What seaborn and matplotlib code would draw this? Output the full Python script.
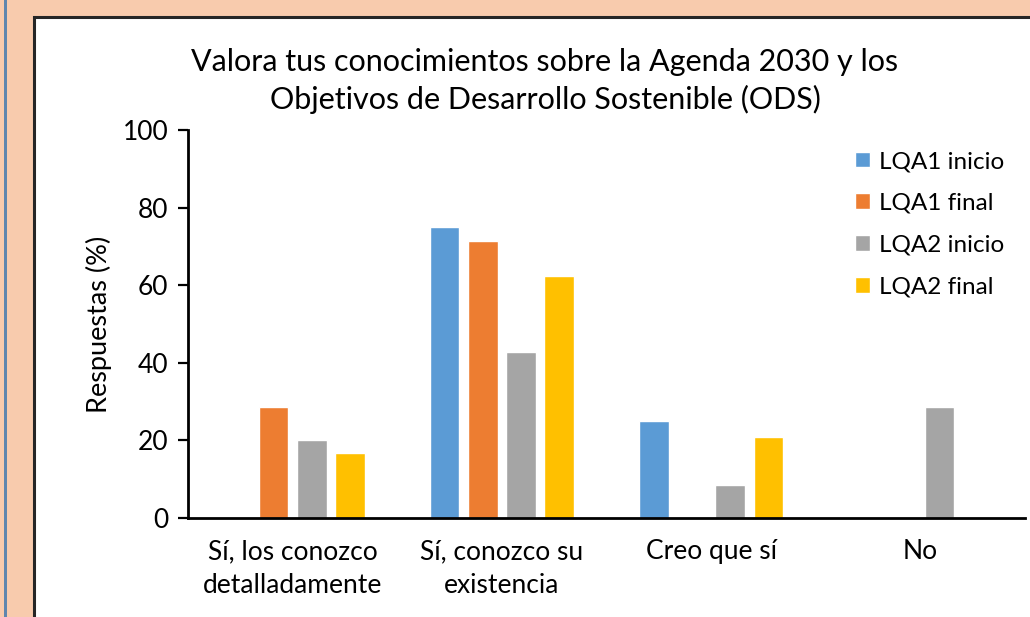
import pandas as pd
import seaborn as sns
from matplotlib import pyplot as plt
from matplotlib.patches import Rectangle

# data
categorias = ["Sí, los conozco\ndetalladamente", "Sí, conozco su\nexistencia", "Creo que sí", "No"]
lqa1_inicio = [0, 75.0, 25.0, 0]
lqa1_final = [28.6, 71.4, 0, 0]
lqa2_inicio = [20.0, 42.9, 8.6, 28.6]
lqa2_final = [16.7, 62.5, 20.8, 0]
series = ["LQA1 inicio", "LQA1 final", "LQA2 inicio", "LQA2 final"]
colores = ["#5B9BD5", "#ED7D31", "#A5A5A5", "#FFC000"]

rows = []
for nombre, vals in zip(series, [lqa1_inicio, lqa1_final, lqa2_inicio, lqa2_final]):
    for cat, v in zip(categorias, vals):
        rows.append({"Categoria": cat, "Serie": nombre, "Valor": v})
df = pd.DataFrame(rows)

sns.set_style("white", {"text.color": "black", "axes.labelcolor": "black",
                        "xtick.color": "black", "ytick.color": "black"})
plt.rcParams['font.family'] = ['Lato', 'DejaVu Sans']

fig = plt.figure(figsize=(10.3, 6.17), dpi=100)
fig.patch.set_facecolor("#F8CBAD")

# white panel with black frame, and the blue line on the left edge
fig.patches.append(Rectangle((34 / 1030, -0.05), 1.2, 1 - 17 / 617 + 0.05, transform=fig.transFigure,
                             facecolor="white", edgecolor="#262626", linewidth=2.2, zorder=-2))
fig.patches.append(Rectangle((4 / 1030, 0), 2.5 / 1030, 1, transform=fig.transFigure,
                             facecolor="#5F86AE", edgecolor="none", zorder=-2))

ax = fig.add_axes([188 / 1030, 1 - 518 / 617, (1025 - 188) / 1030, (518 - 130) / 617])
ax.set_zorder(1)
ax.set_facecolor("none")

sns.barplot(data=df, x="Categoria", y="Valor", hue="Serie", palette=colores, saturation=1,
            width=0.73, gap=0.22, ax=ax, legend=True)

ax.set_ylim(0, 100)
ax.set_yticks([0, 20, 40, 60, 80, 100])
ax.set_xlim(-0.5, 3.5)
ax.set_xlabel("")
ax.set_ylabel("Respuestas (%)", fontsize=19.5, labelpad=8)
ax.tick_params(axis="y", direction="out", length=7, width=1.6, color="black", labelsize=19, pad=7, left=True)
ax.tick_params(axis="x", length=0, labelsize=19, pad=15)
for lbl in ax.get_xticklabels():
    lbl.set_linespacing(1.45)
for s in ["top", "right"]:
    ax.spines[s].set_visible(False)
for s in ["left", "bottom"]:
    ax.spines[s].set_color("black")
    ax.spines[s].set_linewidth(2)

leg = ax.legend(loc="upper left", bbox_to_anchor=(838 / 1030, 1 - 134 / 617), bbox_transform=fig.transFigure,
                frameon=False, fontsize=17.5, handlelength=0.62, handleheight=0.62,
                handletextpad=0.35, labelspacing=0.86, borderpad=0.2)

fig.text(545 / 1030, 1 - 81 / 617, "Valora tus conocimientos sobre la Agenda 2030 y los\nObjetivos de Desarrollo Sostenible (ODS)",
         ha="center", va="center", fontsize=22, linespacing=1.35)

plt.savefig("out.png", dpi=100)
plt.close()
